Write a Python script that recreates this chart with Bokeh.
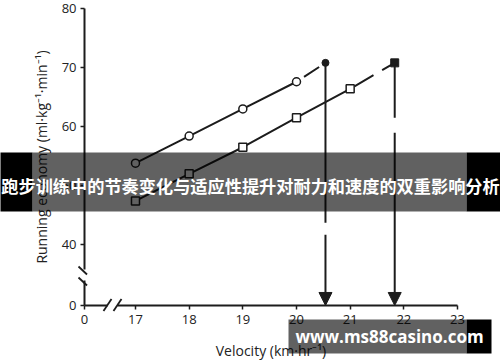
from bokeh.plotting import figure
from bokeh.models import Range1d, FixedTicker, Arrow, NormalHead, BoxAnnotation, Label
from bokeh.embed import file_html
from bokeh.resources import INLINE

# ---------------- data ----------------
circle_velocity = [17, 18, 19, 20]
circle_economy = [53.7, 58.3, 62.9, 67.5]
square_velocity = [17, 18, 19, 20, 21]
square_economy = [47.3, 51.9, 56.4, 61.4, 66.3]
vmax_circle = [20.54, 70.7]
vmax_square = [21.83, 70.7]

x_ticks = [16.05, 17, 18, 19, 20, 21, 22, 23]
x_tick_labels = ["0", "17", "18", "19", "20", "21", "22", "23"]
y_ticks = [29.58, 40, 50, 60, 70, 80]
y_tick_labels = ["0", "40", "50", "60", "70", "80"]

x_label = "Velocity (km·hr⁻¹)"
y_label = "Running economy (ml·kg⁻¹·min⁻¹)"
banner_text = "跑步训练中的节奏变化与适应性提升对耐力和速度的双重影响分析"
watermark_text = "www.ms88casino.com"

# ---------------- geometry (frame = whole canvas) ----------------
W, H = 500, 362
X_AXIS_PX, X_PER_PX = 84, 1 / 53.67      # page x of the y-axis, units per px
Y_TOP_PX, Y_PER_PX = 7.5, 1 / 5.9        # page y of value 80, units per px
INK = "#1c1c1c"


def dx(px):
    return x_ticks[0] + (px - X_AXIS_PX) * X_PER_PX


def dy(py):
    return y_ticks[-1] - (py - Y_TOP_PX) * Y_PER_PX


p = figure(width=W, height=H, output_backend="svg", toolbar_location=None,
           x_range=Range1d(dx(0), dx(W)), y_range=Range1d(dy(H), dy(0)),
           min_border=0)
p.outline_line_color = None
p.grid.visible = False
p.background_fill_color = "white"
p.border_fill_color = "white"

for ax in (p.xaxis[0], p.yaxis[0]):
    ax.axis_line_width = 2
    ax.axis_line_color = INK
    ax.major_tick_line_color = INK
    ax.major_tick_line_width = 1.5
    ax.major_tick_out = 4
    ax.major_tick_in = 0
    ax.minor_tick_line_color = None
    ax.major_label_text_font = "Open Sans"
    ax.major_label_text_font_size = "13px"
    ax.major_label_text_color = "#222222"
    ax.axis_label_text_font = "Open Sans"
    ax.axis_label_text_font_size = "14px"
    ax.axis_label_text_font_style = "normal"
    ax.axis_label_text_color = "#222222"

p.xaxis.ticker = FixedTicker(ticks=x_ticks)
p.xaxis.major_label_overrides = {t: s for t, s in zip(x_ticks, x_tick_labels)}
p.xaxis.bounds = (x_ticks[0], x_ticks[-1])
p.xaxis.fixed_location = y_ticks[0]
p.yaxis.ticker = FixedTicker(ticks=y_ticks)
p.yaxis.major_label_overrides = {t: s for t, s in zip(y_ticks, y_tick_labels)}
p.yaxis.bounds = (y_ticks[0], y_ticks[-1])
p.yaxis.fixed_location = x_ticks[0]
p.xaxis.axis_label = x_label
p.yaxis.axis_label = y_label
p.xaxis.major_label_standoff = 6
p.xaxis.axis_label_standoff = 13
p.yaxis.major_label_standoff = 4
p.yaxis.axis_label_standoff = 8

# solid series lines
p.line(circle_velocity, circle_economy, line_color=INK, line_width=2)
p.line(square_velocity, square_economy, line_color=INK, line_width=2)
# dashed extrapolations to vVO2max
p.line([circle_velocity[-1], vmax_circle[0]], [circle_economy[-1], vmax_circle[1]],
       line_color=INK, line_width=2, line_dash="0 9 18 30")
p.line([square_velocity[-1], vmax_square[0]], [square_economy[-1], vmax_square[1]],
       line_color=INK, line_width=2, line_dash="0 5 22 10 40")

# markers
p.scatter(circle_velocity, circle_economy, marker="circle", size=8,
          fill_color="white", line_color=INK, line_width=1.5)
p.scatter(square_velocity, square_economy, marker="square", size=8,
          fill_color="white", line_color=INK, line_width=1.5)
p.scatter([vmax_circle[0]], [vmax_circle[1]], marker="circle", size=7,
          fill_color=INK, line_color=INK)
p.scatter([vmax_square[0]], [vmax_square[1]], marker="square", size=8,
          fill_color=INK, line_color=INK)

# vertical arrows down to the velocity axis
p.add_layout(Arrow(x_start=vmax_circle[0], y_start=vmax_circle[1],
                   x_end=vmax_circle[0], y_end=y_ticks[0],
                   line_color=INK, line_width=2, line_dash="160 12 400",
                   end=NormalHead(size=13, fill_color=INK, line_color=INK)))
p.add_layout(Arrow(x_start=vmax_square[0], y_start=vmax_square[1],
                   x_end=vmax_square[0], y_end=y_ticks[0],
                   line_color=INK, line_width=2, line_dash="55 15 400",
                   end=NormalHead(size=13, fill_color=INK, line_color=INK)))

# axis breaks (gaps + slashes)
X_AX_Y = 304.5
p.add_layout(BoxAnnotation(left=dx(80), right=dx(88), top=dy(269), bottom=dy(280),
                           fill_color="white", fill_alpha=1, line_alpha=0))
p.add_layout(BoxAnnotation(left=dx(107), right=dx(117), top=dy(X_AX_Y - 3), bottom=dy(X_AX_Y + 3),
                           fill_color="white", fill_alpha=1, line_alpha=0))
for cy in (270, 281):
    p.add_layout(Arrow(x_start=dx(78), y_start=dy(cy - 4), x_end=dx(86.5), y_end=dy(cy + 4),
                       end=None, line_color=INK, line_width=1.8))
for cx in (107, 117):
    p.add_layout(Arrow(x_start=dx(cx - 4), y_start=dy(X_AX_Y + 6), x_end=dx(cx + 4), y_end=dy(X_AX_Y - 6),
                       end=None, line_color=INK, line_width=1.8))


# overlay banners
def box(l, r, t, b, color, alpha):
    p.add_layout(BoxAnnotation(left=dx(l), right=dx(r), top=dy(t), bottom=dy(b),
                               fill_color=color, fill_alpha=alpha, line_alpha=0))


box(32, 466, 152, 211, "black", 0.62)
box(-2, 32, 152, 211, "black", 1.0)
box(466, 502, 152, 211, "black", 1.0)
p.add_layout(Label(x=dx(250), y=dy(185), text=banner_text, text_align="center",
                   text_baseline="middle", text_font="Noto Sans CJK SC",
                   text_font_size="17.2px", text_font_style="bold", text_color="white"))

box(288, 466, 319, 353, "black", 0.62)
box(466, 491, 319, 353, "black", 1.0)
p.add_layout(Label(x=dx(389), y=dy(336), text=watermark_text, text_align="center",
                   text_baseline="middle", text_font="Open Sans",
                   text_font_size="17px", text_font_style="bold", text_color="white"))

open("out.html", "w").write(file_html(p, INLINE))
